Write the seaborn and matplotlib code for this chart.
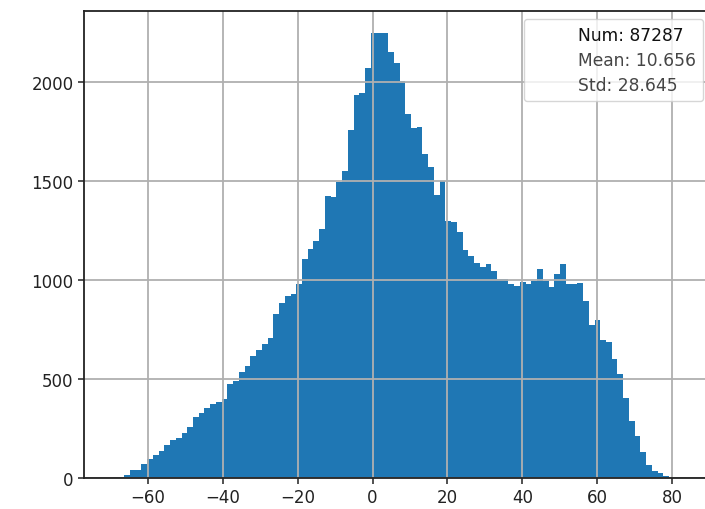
import numpy as np
import pandas as pd
import matplotlib
matplotlib.use("Agg")
import matplotlib.pyplot as plt
import seaborn as sns
from matplotlib.lines import Line2D

# 100 equal-width bins spanning the sample minimum to maximum
bin_start = -69.3
bin_stop = 83.7
n_bins = 100

# counts per bin, left to right
counts = [
    3, 6, 15, 40, 38, 70, 96, 116, 138, 168,
    193, 202, 225, 258, 306, 326, 353, 376, 384, 398,
    477, 490, 536, 566, 616, 646, 675, 705, 826, 885,
    918, 927, 982, 1107, 1154, 1196, 1258, 1422, 1420, 1495,
    1552, 1755, 1935, 1943, 2072, 2248, 2246, 2248, 2153, 2094,
    2005, 1837, 1766, 1772, 1636, 1568, 1431, 1501, 1300, 1293,
    1241, 1150, 1120, 1087, 1065, 1078, 1045, 1003, 1003, 982,
    969, 991, 981, 994, 1053, 994, 966, 1031, 1078, 977,
    979, 984, 893, 771, 796, 697, 689, 600, 524, 403,
    289, 210, 129, 65, 37, 24, 10, 5, 4, 3,
]

stats_labels = ["Num: 87287", "Mean: 10.656", "Std: 28.645"]
stats_colors = ["#111111", "#454545", "#454545"]
x_ticks = [-60, -40, -20, 0, 20, 40, 60, 80]
y_ticks = [0, 500, 1000, 1500, 2000]

edges = np.linspace(bin_start, bin_stop, n_bins + 1)
centers = (edges[:-1] + edges[1:]) / 2
df = pd.DataFrame({"value": centers, "count": counts})

plt.rcParams["font.size"] = 12
plt.rcParams["font.family"] = ["DejaVu Sans"]

fig = plt.figure(figsize=(7.05, 5.10), dpi=100)
ax = fig.add_axes([84 / 705, 31 / 510, 631 / 705, 467.5 / 510])

sns.histplot(
    data=df, x="value", weights="count", bins=edges.tolist(),
    color="#1f77b4", alpha=1, linewidth=0, ax=ax,
)

ax.set_xlabel("")
ax.set_ylabel("")
ax.set_xticks(x_ticks)
ax.set_yticks(y_ticks)
ax.tick_params(labelsize=12, colors="#222222", width=1.1, length=4)
ax.grid(True, color="#b0b0b0", linewidth=1.3)
for sp in ax.spines.values():
    sp.set_linewidth(1.3)
    sp.set_color("#222222")

handles = [Line2D([], [], linestyle="none") for _ in stats_labels]
ax.legend(
    handles, stats_labels,
    loc="upper right",
    bbox_to_anchor=(703 / 705, 1 - 20 / 510),
    bbox_transform=fig.transFigure,
    borderaxespad=0,
    fontsize=12.3,
    labelspacing=0.42,
    labelcolor=stats_colors,
)

fig.savefig("out.png", dpi=100)
